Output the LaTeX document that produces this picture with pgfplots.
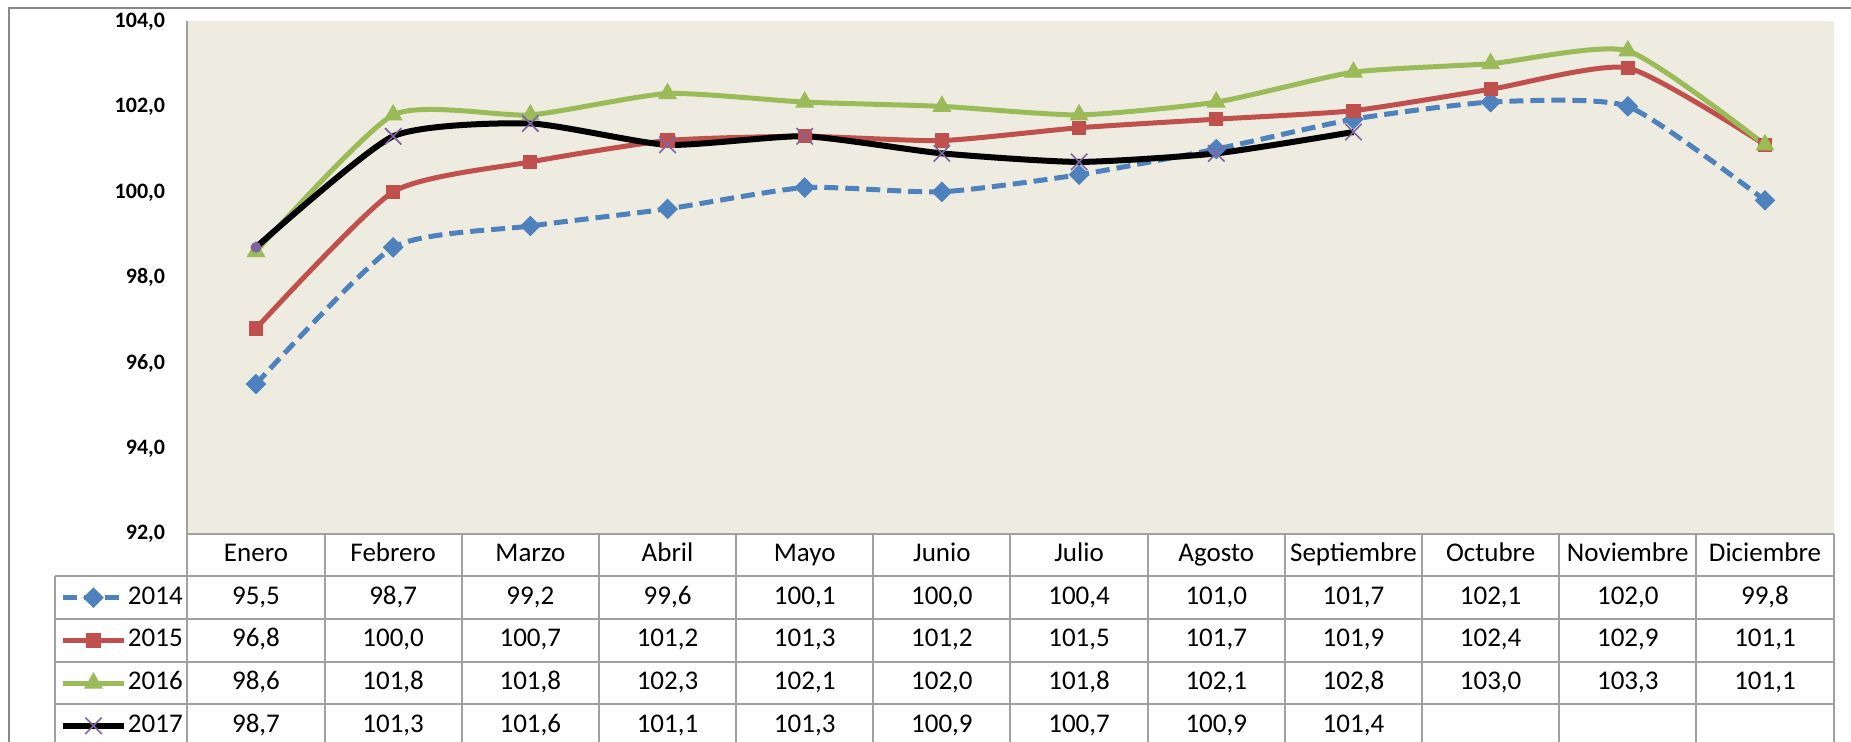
\documentclass[border=0pt]{standalone}
\usepackage{fontspec}
\setmainfont{Carlito}
\usepackage{pgfplots}
\usepackage{pgfplotstable}
\pgfplotsset{compat=1.18}
\definecolor{c14}{HTML}{4F81BD}
\definecolor{c15}{HTML}{C0504D}
\definecolor{c16}{HTML}{9BBB59}
\definecolor{c17}{HTML}{8064A2}
\definecolor{bgc}{HTML}{EEECE1}
\definecolor{gridc}{HTML}{A0A0A0}
\definecolor{framec}{HTML}{888888}
\newcommand{\tabfont}{\fontsize{13.5}{16}\selectfont}
\newcommand{\tickfont}{\fontsize{11}{13}\selectfont\bfseries}

\pgfplotstableread{
x a b c d
0 95.5 96.8 98.6 98.7
1 98.7 100.0 101.8 101.3
2 99.2 100.7 101.8 101.6
3 99.6 101.2 102.3 101.1
4 100.1 101.3 102.1 101.3
5 100.0 101.2 102.0 100.9
6 100.4 101.5 101.8 100.7
7 101.0 101.7 102.1 100.9
8 101.7 101.9 102.8 101.4
9 102.1 102.4 103.0 nan
10 102.0 102.9 103.3 nan
11 99.8 101.1 101.1 nan
}\data

\pgfplotsset{myleg/.style={legend image code/.code={\draw[##1, mark repeat=2, mark phase=2] plot coordinates {(0pt,0pt) (15.25pt,0pt) (30.5pt,0pt)};}}}

\begin{document}
\begin{tikzpicture}
\begin{axis}[
  scale only axis, width=823pt, height=256.3pt,
  xmin=-0.5, xmax=11.5, ymin=92, ymax=104,
  clip=false,
  axis line style={draw=none},
  axis background/.style={fill=bgc},
  major tick length=0pt,
  ytick={92,94,...,104},
  xtick={0,...,11},
  xticklabels={Enero,Febrero,Marzo,Abril,Mayo,Junio,Julio,Agosto,Septiembre,Octubre,Noviembre,Diciembre},
  xticklabel style={font=\tabfont, anchor=center, yshift=-10.68pt, inner sep=0pt, text height=0.64em, text depth=0pt},
  yticklabel style={font=\tickfont, anchor=east, inner sep=0pt, xshift=-11pt, text height=0.64em, text depth=0pt},
  /pgf/number format/fixed,
  /pgf/number format/fixed zerofill,
  /pgf/number format/precision=1,
  /pgf/number format/use comma,
  /pgf/number format/assume math mode=true,
  every node near coord/.append style={font=\tabfont, text=black, anchor=center, inner sep=0pt, text height=0.64em, text depth=0pt},
  legend style={at={(-0.0774,-0.08333)}, anchor=north west, draw=none, fill=none, inner sep=0pt, outer sep=0pt, row sep=0pt, column sep=0.5pt, font=\tabfont,
    nodes={inner sep=0pt, minimum height=21.36pt, text height=0.64em, text depth=0pt, anchor=center}},
  myleg,
]
% series
\addplot[c14, line width=2.5pt, dash pattern=on 7pt off 3.5pt, smooth, tension=0.35,
  mark=square*, mark size=3.4pt, mark options={solid, rotate=45, fill=c14, draw=c14, line width=0.5pt}]
  table[x=x,y=a]{\data};
\addlegendentry{2014}
\addplot[c15, line width=2.5pt, smooth, tension=0.35,
  mark=square*, mark size=3.3pt, mark options={fill=c15, draw=c15, line width=0.5pt}]
  table[x=x,y=b]{\data};
\addlegendentry{2015}
\addplot[c16, line width=2.5pt, smooth, tension=0.35,
  mark=triangle*, mark size=5pt, mark options={fill=c16, draw=c16, line width=0.5pt}]
  table[x=x,y=c]{\data};
\addlegendentry{2016}
\addplot[black, line width=3pt, smooth, tension=0.35, mark phase=2,
  mark=x, mark size=5.8pt, mark options={draw=c17, line width=0.8pt}]
  table[x=x,y=d]{\data};
\addlegendentry{2017}
\addplot[only marks, mark=*, mark size=2.5pt, c17, forget plot] coordinates {(0,98.7)};

% data table values
\addplot[draw=none, mark=none, forget plot, point meta=explicit, nodes near coords] table[x=x, y expr=90.5, meta=a]{\data};
\addplot[draw=none, mark=none, forget plot, point meta=explicit, nodes near coords] table[x=x, y expr=89.5, meta=b]{\data};
\addplot[draw=none, mark=none, forget plot, point meta=explicit, nodes near coords] table[x=x, y expr=88.5, meta=c]{\data};
\addplot[draw=none, mark=none, forget plot, point meta=explicit, nodes near coords, skip coords between index={9}{12}] table[x=x, y expr=87.5, meta=d]{\data};

% table grid
\draw[gridc, line width=1pt] (axis cs:-0.5,104) -- (axis cs:-0.5,86);
\draw[gridc, line width=1pt]
  (axis cs:0.5,92) -- (axis cs:0.5,86)
  (axis cs:1.5,92) -- (axis cs:1.5,86)
  (axis cs:2.5,92) -- (axis cs:2.5,86)
  (axis cs:3.5,92) -- (axis cs:3.5,86)
  (axis cs:4.5,92) -- (axis cs:4.5,86)
  (axis cs:5.5,92) -- (axis cs:5.5,86)
  (axis cs:6.5,92) -- (axis cs:6.5,86)
  (axis cs:7.5,92) -- (axis cs:7.5,86)
  (axis cs:8.5,92) -- (axis cs:8.5,86)
  (axis cs:9.5,92) -- (axis cs:9.5,86)
  (axis cs:10.5,92) -- (axis cs:10.5,86)
  (axis cs:11.5,92) -- (axis cs:11.5,86);
\draw[gridc, line width=1pt]
  (axis cs:-0.5,92) -- (axis cs:11.5,92)
  (axis cs:-1.4616,91) -- (axis cs:11.5,91)
  (axis cs:-1.4616,90) -- (axis cs:11.5,90)
  (axis cs:-1.4616,89) -- (axis cs:11.5,89)
  (axis cs:-1.4616,88) -- (axis cs:11.5,88)
  (axis cs:-1.4616,91) -- (axis cs:-1.4616,86);
% outer frame
\draw[framec, line width=1pt] (axis cs:-1.797,86) -- (axis cs:-1.797,104.304) -- (axis cs:13,104.304);

\coordinate (BBsw) at (axis cs:-1.866,87.145);
\coordinate (BBne) at (axis cs:11.627,104.49);
\end{axis}
\pgfresetboundingbox
\useasboundingbox (BBsw) rectangle (BBne);
\end{tikzpicture}
\end{document}
